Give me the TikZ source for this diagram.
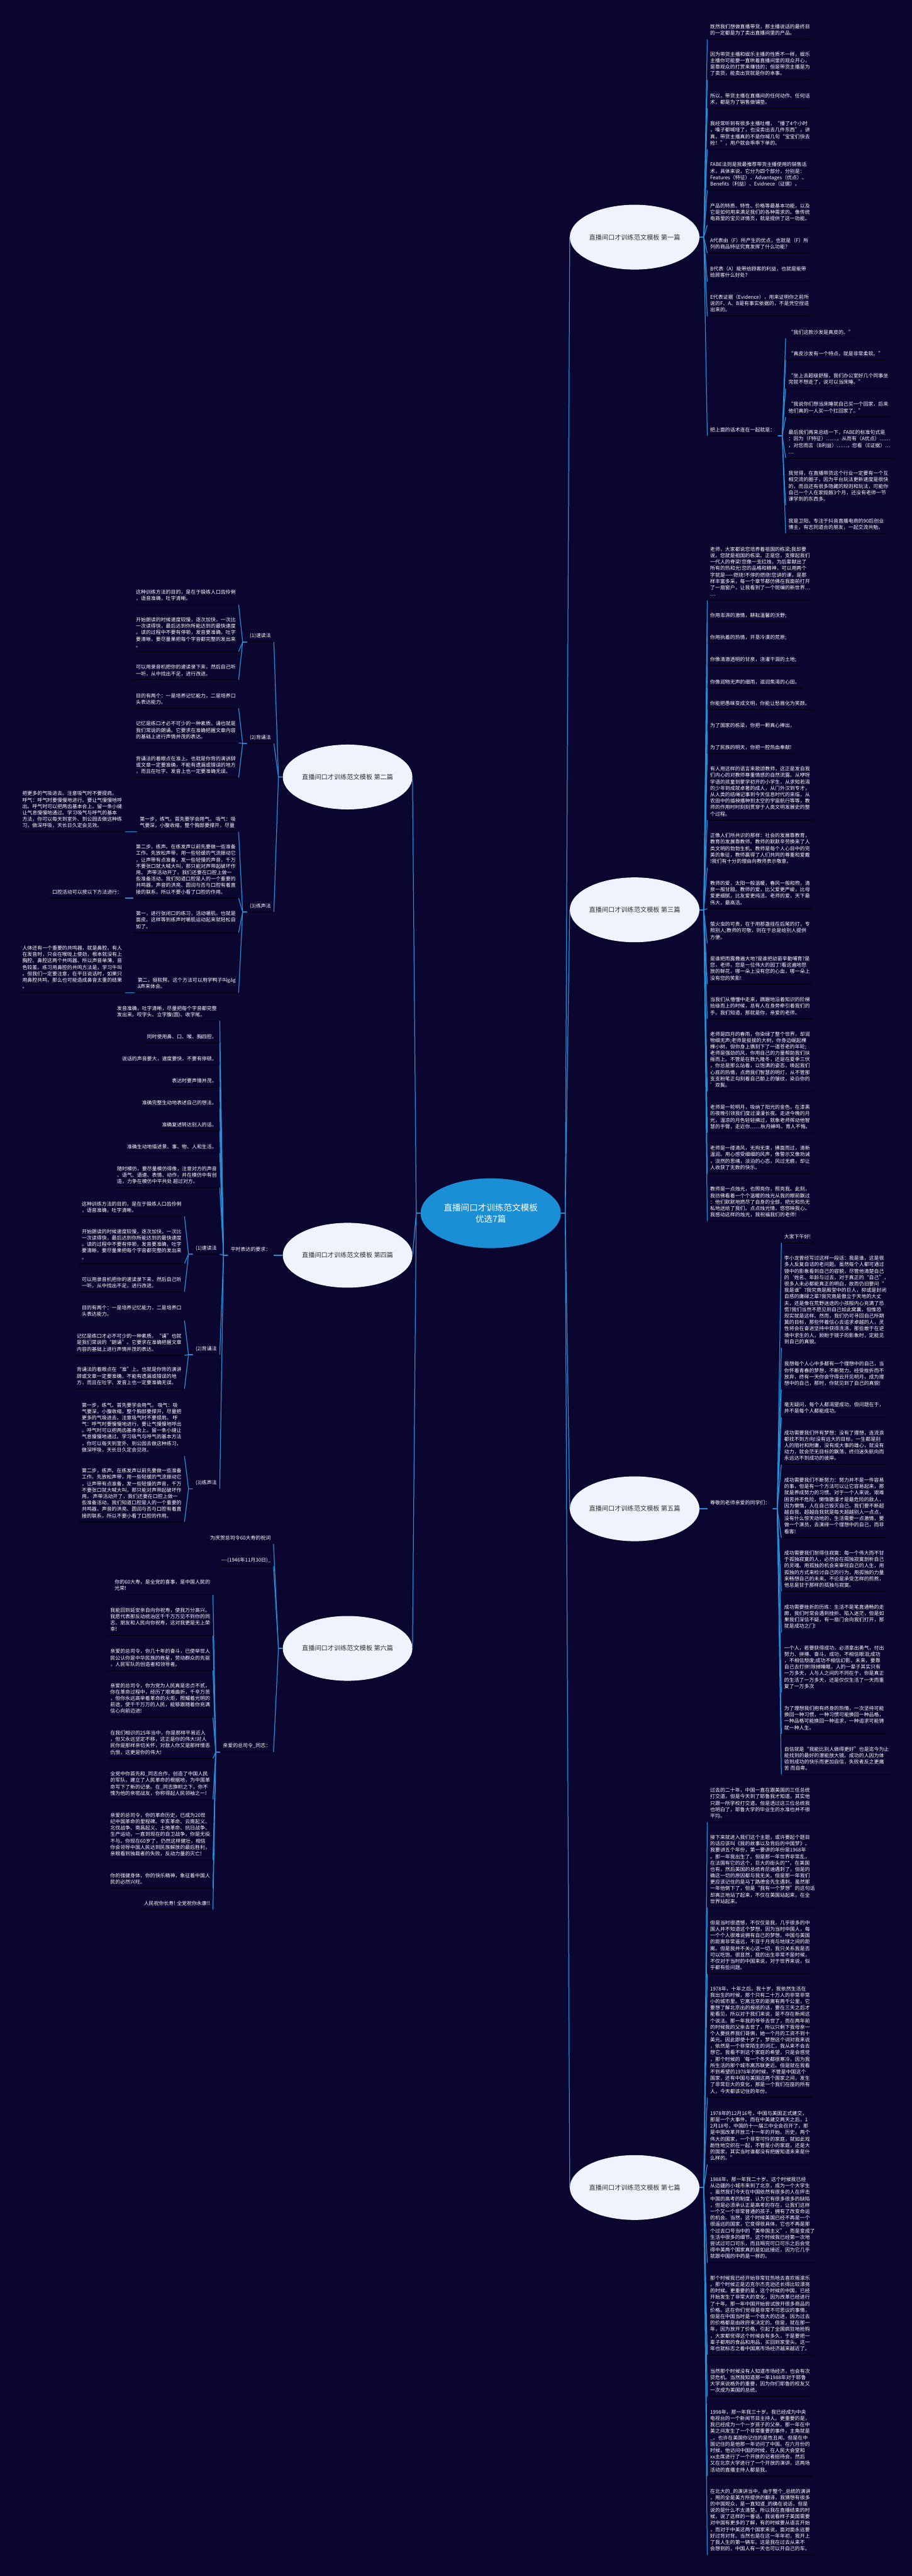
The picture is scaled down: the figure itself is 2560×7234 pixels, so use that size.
\documentclass[tikz,border=0pt]{standalone}
\usepackage{fontspec}
\setmainfont{Noto Sans CJK SC}
\usetikzlibrary{shapes.geometric}
\definecolor{bgc}{RGB}{10,6,48}
\definecolor{lnc}{RGB}{38,142,214}
\definecolor{ellc}{RGB}{238,243,253}
\definecolor{rootc}{RGB}{26,143,214}
\definecolor{ulc}{RGB}{2,1,18}
\definecolor{darktxt}{RGB}{51,51,51}
\tikzset{
  conn/.style={draw=lnc, line width=2.2pt},
  ul/.style={draw=ulc, line width=2pt},
  txt/.style={align=left, text=white, font=\fontsize{14}{18}\selectfont, inner xsep=8pt, inner ysep=8pt, text depth=4pt},
  chap/.style={ellipse, fill=ellc, minimum width=364pt, minimum height=182pt, inner sep=0pt, text=darktxt, font=\fontsize{18}{22}\selectfont},
  rootn/.style={ellipse, fill=rootc, minimum width=394pt, minimum height=196pt, inner sep=0pt, text=white, align=center, font=\fontsize{24}{32}\selectfont}
}
\newcommand\nodeR[4]{\node[txt,anchor=south west] (#1) at (#2,#3) {#4};\draw[ul] (#1.south west) -- (#1.south east);}
\newcommand\nodeL[4]{\node[txt,anchor=south east] (#1) at (#2,#3) {#4};\draw[ul] (#1.south west) -- (#1.south east);}
\newcommand\conR[2]{\draw[conn] (#1.south east) -- ++(12,0) -- (#2.south west);}
\newcommand\conL[2]{\draw[conn] (#1.south west) -- ++(-12,0) -- (#2.south east);}
\newcommand\conRE[2]{\draw[conn] (#1.east) -- ++(12,0) -- (#2.south west);}
\newcommand\conLE[2]{\draw[conn] (#1.west) -- ++(-12,0) -- (#2.south east);}
\begin{document}
\begin{tikzpicture}[x=1pt,y=-1pt]
\fill[bgc] (0,0) rectangle (2560,7234);
\useasboundingbox (0,0) rectangle (2560,7234);

% ---------- central and chapters ----------
\node[rootn] (root) at (1378,3407) {直播间口才训练范文模板\\优选7篇};
\node[chap] (c1) at (1782,666) {直播间口才训练范文模板 第一篇};
\node[chap] (c3) at (1782,2555) {直播间口才训练范文模板 第三篇};
\node[chap] (c5) at (1782,4237) {直播间口才训练范文模板 第五篇};
\node[chap] (c7) at (1782,6143) {直播间口才训练范文模板 第七篇};
\node[chap] (c2) at (976,2182) {直播间口才训练范文模板 第二篇};
\node[chap] (c4) at (976,3525) {直播间口才训练范文模板 第四篇};
\node[chap] (c6) at (976,4629) {直播间口才训练范文模板 第六篇};
\foreach \c in {c1,c3,c5,c7} {\draw[conn] (root.east) -- ++(12,0) -- (\c.west);}
\foreach \c in {c2,c4,c6} {\draw[conn] (root.west) -- ++(-12,0) -- (\c.east);}

% ---------- 第一篇 ----------
\nodeR{a1}{1986}{110}{既然我们想做直播带货，那主播说话的最终目\\的一定都是为了卖出直播间里的产品。}
\nodeR{a2}{1986}{224}{因为带货主播和娱乐主播的性质不一样，娱乐\\主播你可能要一直哄着直播间里的观众开心，\\是靠观众的打赏来赚钱的；但是带货主播是为\\了卖货，能卖出货就是你的本事。}
\nodeR{a3}{1986}{304}{所以，带货主播在直播间的任何动作、任何话\\术，都是为了销售做铺垫。}
\nodeR{a4}{1986}{419}{我经常听到有很多主播吐槽，“播了4个小时\\，嗓子都喊哑了，也没卖出去几件东西”，讲\\真，带货主播真的不是你喊几句“宝宝们快去\\抢！”，用户就会乖乖下单的。}
\nodeR{a5}{1986}{534}{FABE法则是我最推荐带货主播使用的销售话\\术，具体来说，它分为四个部分，分别是：\\Features（特征）、Advantages（优点）、\\Benefits（利益）、Evidnece（证据）。}
\nodeR{a6}{1986}{632}{产品的特质、特性、价格等最基本功能，以及\\它是如何用来满足我们的各种需求的。像传统\\电商里的宝贝详情页，就是提供了这一功能。}
\nodeR{a7}{1986}{711}{A代表由（F）所产生的优点，也就是（F）所\\列的商品特征究竟发挥了什么功能？}
\nodeR{a8}{1986}{791}{B代表（A）能带给顾客的利益，也就是能带\\给顾客什么好处？}
\nodeR{a9}{1986}{888}{E代表证据（Evidence），用来证明你之前所\\说的F、A、B是有事实依据的，不是凭空捏造\\出来的。}
\nodeR{a10}{1986}{1224}{把上面的话术连在一起就是：}
\nodeR{aa1}{2206}{950}{“我们这款沙发是真皮的。”}
\nodeR{aa2}{2206}{1011}{“真皮沙发有一个特点，就是非常柔软。”}
\nodeR{aa3}{2206}{1091}{“坐上去超级舒服，我们办公室好几个同事坐\\完就不想走了，说可以当床睡。”}
\nodeR{aa4}{2206}{1171}{“我说你们想当床睡就自己买一个回家，后来\\他们真的一人买一个扛回家了。”}
\nodeR{aa5}{2206}{1286}{最后我们再来总结一下，FABE的标准句式是\\：因为（F特征）……，从而有（A优点）……\\，对您而言（B利益）……，您看（E证据）…\\…}
\nodeR{aa6}{2206}{1419}{我觉得，在直播带货这个行业一定要有一个互\\相交流的圈子，因为平台玩法更新速度是很快\\的，而且还有很多隐藏的规则和玩法，可能你\\自己一个人在家捣鼓3个月，还没有老师一节\\课学到的东西多。}
\nodeR{aa7}{2206}{1498}{我是卫阳，专注于抖音直播电商的90后创业\\博主，有志同道合的朋友，一起交流共勉。}
\foreach \c in {a1,a2,a3,a4,a5,a6,a7,a8,a9,a10} {\conRE{c1}{\c}}
\foreach \c in {aa1,aa2,aa3,aa4,aa5,aa6,aa7} {\conR{a10}{\c}}

% ---------- 第三篇 ----------
\nodeR{b1}{1986}{1686}{老师，大家都说您培养着祖国的栋梁;我却要\\说，您就是祖国的栋梁。正是您，支撑起我们\\一代人的脊梁!您像一支红烛，为后辈献出了\\所有的热和光!您的品格和精神，可以用两个\\字就是——燃烧!不停的燃烧!您讲的课，是那\\样丰富多采，每一个章节都仿佛在我面前打开\\了一扇窗户，让我看到了一个斑斓的新世界…\\…}
\nodeR{b2}{1986}{1746}{你用澎湃的激情，耕耘温馨的沃野;}
\nodeR{b3}{1986}{1808}{你用执着的热情，开垦冷漠的荒原;}
\nodeR{b4}{1986}{1870}{你像清澈透明的甘泉，浇灌干涸的土地;}
\nodeR{b5}{1986}{1932}{你像润物无声的细雨，滋润焦渴的心田。}
\nodeR{b6}{1986}{1993}{你能把愚昧变成文明，你能让愁眉化为笑颜。}
\nodeR{b7}{1986}{2055}{为了国家的栋梁，你把一颗真心捧出，}
\nodeR{b8}{1986}{2116}{为了民族的明天，你把一腔热血奉献!}
\nodeR{b9}{1986}{2303}{有人用这样的语言来歌颂教师，这正是发自我\\们内心的对教师尊重情感的自然流露。从咿呀\\学语的孩童到蒙学初开的小学生，从求知若渴\\的少年到成就卓著的成人，从门外汉到专才，\\从人类的结绳记事到今天信息时代的来临，从\\农田中的插秧播种到太空的宇宙航行等等，教\\师的作用时时刻刻贯穿于人类文明发展史的整\\个过程。}
\nodeR{b10}{1986}{2436}{正像人们所共识的那样：社会的发展靠教育，\\教育的发展靠教师。教师的默默辛劳换来了人\\类文明的勃勃生机。教师是每个人心目中的完\\美的象征，教师赢得了人们共同的尊重和爱戴\\!我们有十分的理由向教师表示敬意。}
\nodeR{b11}{1986}{2552}{教师的爱，太阳一般温暖，春风一般和煦，清\\泉一般甘甜。教师的爱，比父爱更严峻，比母\\爱更细腻，比友爱更纯洁。老师的爱，天下最\\伟大，最高洁。}
\nodeR{b12}{1986}{2649}{萤火虫的可贵，在于用那盏挂在后尾的灯，专\\照别人;教师的可敬，则在于总是给别人提供\\方便。}
\nodeR{b13}{1986}{2764}{是谁把雨露撒遍大地?是谁把幼苗辛勤哺育?是\\您，老师，您是一位伟大的园丁!看这遍地怒\\放的鲜花，哪一朵上没有您的心血，哪一朵上\\没有您的笑影!}
\nodeR{b14}{1986}{2861}{当我们从懵懂中走来，蹒跚地沿着知识的阶梯\\拾级而上的时候，总有人在身旁牵引着我们的\\手。我们知道，那就是你，亲爱的老师。}
\nodeR{b15}{1986}{3065}{老师是四月的春雨，你染绿了整个世界，却润\\物细无声;老师是挺拔的大树，你身边崛起棵\\棵小树，但你身上镌刻下了一道苍老的年轮;\\老师是强劲的风，你用自己的力量帮助我们扶\\摇而上。不管是在数九隆冬，还是在夏季三伏\\，你总是那么站着，以饱满的姿态，唤起我们\\心底的热情，点燃我们智慧的明灯，从不管那\\支支粉笔正勾刻着自己额上的皱纹，染白你的\\'双鬓。}
\nodeR{b16}{1986}{3181}{老师是一轮明月，吸纳了阳光的金色，在漆黑\\的夜晚引领我们度过漫漫长夜。走进今晚的月\\光，温凉的月色轻轻拂过，就象老师挥动他智\\慧的手臂，走近你……秋月蝉鸣，育人不悔。}
\nodeR{b17}{1986}{3296}{老师是一缕清风，无拘无束，拂面而过，清新\\温润。用心感受细细的风声，像警示又像劝诫\\，淡然的思绪，淡泊的心态，风过无痕，却让\\人收获了无数的快乐。}
\nodeR{b18}{1986}{3429}{教师是一点烛光，也照亮你，照亮我。此刻，\\我彷佛看着一个个温暖的烛光从我的眼前飘过\\：他们默默地燃尽了自身的全部，把光和热无\\私地送给了我们。点点烛光情，悠悠映我心。\\我感动这样的烛光，我祝福我们的老师!}
\foreach \c in {b1,b2,b3,b4,b5,b6,b7,b8,b9,b10,b11,b12,b13,b14,b15,b16,b17,b18} {\conRE{c3}{\c}}

% ---------- 第五篇 ----------
\nodeR{e0}{1986}{4237}{尊敬的老师亲爱的同学们：}
\draw[conn] (c5.east) -- (e0.south west);
\nodeR{e1}{2194}{3490}{大家下午好!}
\nodeR{e2}{2194}{3785}{李小龙曾经写过这样一段话：我是谁，这是很\\多人反复自诘的老问题。虽然每个人都可通过\\镜中的影象看到自己的容貌，尽管他清楚自己\\的`姓名、年龄与过去，对于真正的“自己”，\\很多人未必都能真正的明白，故而仍旧要问“\\我是谁”?我究竟是殿堂中的巨人，抑或是封闭\\自惑的庸碌之辈?我究竟是傲立于天地的大丈\\夫，还是像在荒野迷途的小孩般内心充满了恐\\慌?我们当然不愿见到自己如此窝囊，但惟恐\\现实就是这样。然而，我们仍可寻回自己所期\\冀的目标，那些怀着信心去追求卓越的人，灵\\性将会在奋进坚持中获得洗涤，那些敢于在逆\\境中求生的人，顾盼于镜子的影象时，定能见\\到自己的真貌。}
\nodeR{e3}{2194}{3902}{我想每个人心中多都有一个理想中的自己，当\\你怀着青春的梦想，不断努力，经受挫折而不\\放弃，终有一天你会守得云开见明月，成为理\\想中的自己，那时，你就见到了自己的真貌!}
\nodeR{e4}{2194}{3980}{毫无疑问，每个人都渴望成功，但问题在于，\\并不是每个人都能成功。}
\nodeR{e5}{2194}{4113}{成功需要我们怀有梦想：没有了理想，连流浪\\都找不到方向!没有远大的目标，一生都是别\\人的陪衬和附庸，没有成大事的雄心，就没有\\动力，就会茫无目标的飘荡，终归迷失航向而\\永远达不到成功的彼岸。}
\nodeR{e6}{2194}{4318}{成功需要我们不断努力：努力并不是一件容易\\的事，但是有一个方法可以让它容易起来，那\\就是养成努力的习惯。对于一个人来说，艰难\\困苦并不危险，懒惰散漫才是最危险的敌人，\\因为懒惰，人在自己毁灭自己。我们要不断超\\越自我，超越自我就是每天超越别人一点点，\\没有什么惊天动地的，生活需要一点激情，要\\做一个演员，去演绎一个理想中的自己，而非\\看客!}
\nodeR{e7}{2194}{4469}{成功需要我们耐得住寂寞：每一个伟大而不甘\\于孤独寂寞的人，必然会在孤独寂寞剖析自己\\的灵魂。用孤独的机会来审视自己的人生，用\\孤独的方式来检讨自己的行为，用孤独的力量\\来畅想自己的未来。不论是承受怎样的煎熬，\\他总是甘于那样的孤独与寂寞。}
\nodeR{e8}{2194}{4584}{成功需要挫折的历练：生活不是笔直通畅的走\\廊，我们时常会遇到挫折、陷入迷茫，但是如\\果我们深信不疑，有一扇门会向我们打开，那\\就是成功之门!}
\nodeR{e9}{2194}{4753}{一个人，若要获得成功，必须拿出勇气，付出\\努力、拼搏、奋斗。成功，不相信眼泪;成功\\，不相信颓废;成功不相信幻影，未来，要靠\\自己去打拼!除掉睡眠，人的一辈子其实只有\\一万多天，人与人之间的不同在于，你是真正\\的生活了一万多天，还是仅仅生活了一天而重\\复了一万多次}
\nodeR{e10}{2194}{4869}{为了理想我们抱有终身的热情，一次坚持可能\\换回一种习惯，一种习惯可能换回一种品格，\\一种品格可能换回一种追求，一种追求可能铸\\就一种人生。}
\nodeR{e11}{2194}{4983}{自信就是“我能比别人做得更好”也是迄今为止\\能找到的最好的潜能放大镜。成功的人因为体\\验到成功的快乐而更加自信，失败者反之更痛\\苦 而自卑。}
\foreach \c in {e1,e2,e3,e4,e5,e6,e7,e8,e9,e10,e11} {\conR{e0}{\c}}

% ---------- 第七篇 ----------
\nodeR{g1}{1986}{5117}{过去的二十年，中国一直在跟美国的三任总统\\打交道，但是今天到了耶鲁我才知道，其实他\\只跟一所学校打交道。但是透过这三位总统我\\也明白了，耶鲁大学的毕业生的水准也并不很\\平均。}
\nodeR{g2}{1986}{5357}{接下来就进入我们这个主题，或许要起个题目\\的话应该叫《我的故事以及背后的中国梦》。\\我要讲五个年份，第一要讲的年份是1968年\\。那一年我出生了。但是那一年世界非常乱，\\在法国有它的这个，巨大的街头的**，在美国\\也有，然后美国的总统肯尼迪遇刺了，但是的\\确这一切的原因都与我无关。但是那一年我们\\更应该记住的是马丁路德金先生遇刺，虽然那\\一年他倒下了，但是“我有一个梦想”的这句话\\却真正地站了起来，不仅在美国站起来，在全\\世界站起来。}
\nodeR{g3}{1986}{5543}{但是当时很遗憾，不仅仅是我，几乎很多的中\\国人并不知道这个梦想，因为当时中国人，每\\一个个人很难说拥有自己的梦想。中国与美国\\的距离非常遥远，不亚于月亮与地球之间的距\\离。但是我并不关心这一切，我只关系我是否\\可以吃饱。很显然，我的出生非常不是时候，\\不仅对于当时的中国来说，对于世界来说，似\\乎都有些问题。}
\nodeR{g4}{1986}{5890}{1978年，十年之后。我十岁，我依然生活在\\我出生的时候，那个只有二十万人的非常非常\\小的城市里。它离北京的距离有两千公里，它\\要想了解北京出的报纸的话，要在三天之后才\\能看见，所以对于我们来说，是不存在新闻这\\个说法。那一年我的爷爷去世了，而在两年前\\的时候我的父亲去世了，所以只剩下我母亲一\\个人要抚养我们哥俩，她一个月的工资不到十\\美元。因此即使十岁了，梦想这个词对我来说\\，依然是一个非常陌生的词汇，我从来不会去\\想它。我看不到这个家庭的希望，只是会感觉\\，那个时候的`每一个冬天都很寒冷，因为我\\所生活的那个城市离苏联更近。但是就在我看\\不到希望的1978年的时候，不管是中国这个\\国家，还有中国与美国这两个国家之间，发生\\了非常巨大的变化，那是一个我们在座的所有\\人，今天都该记住的年份。}
\nodeR{g5}{1986}{6078}{1978年的12月16号，中国与美国正式建交，\\那是一个大事件。而在中美建交两天之后，1\\2月18号，中国的十一届三中全会召开了，那\\是中国改革开放三十一年的开始。历史，两个\\伟大的国家，一个非常可怜的家庭，就如此戏\\剧性地交织在一起，不管是小的家庭，还是大\\的国家，其实当时谁都没有把握知道未来是什\\么样的。”}
\nodeR{g6}{1986}{6354}{1988年，那一年我二十岁。这个时候我已经\\从边疆的小城市来到了北京，成为一个大学生\\。虽然我们今天在中国依然有很多的人在抨击\\中国的高考的制度，认为它有很多很多的缺陷\\，但是必须承认正是高考的存在，让我们这样\\一个又一个非常普通的孩子，拥有了改变命运\\的机会。当然，这个时候美国已经不再是一个\\很遥远的国家，它变得很具体，它也不再是那\\个过去口号当中的“美帝国主义”，而是变成了\\生活中很多的细节。这个时候我已经第一次地\\尝试过可口可乐，而且喝完可口可乐之后会觉\\得中美两个国家真的是如此接近，因为它几乎\\就跟中国的中药是一样的。}
\nodeR{g7}{1986}{6613}{那个时候我已经开始非常狂热地去喜欢摇滚乐\\。那个时候正是迈克尔杰克逊还长得比较漂亮\\的时候。更重要的是，这个时候的中国，已经\\开始发生了非常大的变化，因为改革已经进行\\了十年。那一年中国开始尝试放开很多商品的\\价格。这在你们觉得是非常不可思议的事情，\\但是在中国当时是一个很大的迈进，因为过去\\的价格都是由政府来决定的。但是，就在那一\\年，因为放开了价格，引起了全国疯狂地抢购\\，大家都觉得这个时候会有多久，于是要把一\\辈子都用的食品和用品，买回到家里头。这一\\年也就标志之着中国离市场经济越来越近了。}
\nodeR{g8}{1986}{6730}{当然那个时候没有人知道市场经济，也会有次\\贷危机。当然我知道那一年1988年对于耶鲁\\大学来说格外的重要，因为你们耶鲁的校友又\\一次成为美国的总统。}
\nodeR{g9}{1986}{6953}{1998年，那一年我三十岁。我已经成为中央\\电视台的一个新闻节目主持人。更重要的是，\\我已经成为一个一岁孩子的父亲。那一年在中\\美之间发生了一个非常重要的事件，主角就是\\\_。也许在美国你记住的是性丑闻。但是在中\\国记住的是他那一年访问了中国。在六月份的\\时候，他访问中国的时候，在人民大会堂和\\xx主席进行了一个开放的记者招待会，然后\\又在北京大学进行了一个开放的演讲，这两场\\活动的直播主持人都是我。}
\nodeR{g10}{1986}{7175}{在北大的\_的演讲当中，由于整个\_总统的演讲\\，用的全是美方所提供的翻译，我猜想有很多\\的中国观众，是一直知道\_的确在说话，但是\\说的是什么不太清楚。所以我在直播结束的时\\候，说了这样的一番话，我说看样子美国需要\\对中国有更多的了解，有的时候要从语言开始\\，而对于中美这两个国家来说，面对面永远要\\好过背对背。当然也是在这一年年初，我开上\\了我人生的第一辆车。这是我在过去从来不\\会想到的，中国人有一天也可以开自己的车。}
\foreach \c in {g1,g2,g3,g4,g5,g6,g7,g8,g9,g10} {\conRE{c7}{\c}}

% ---------- 第二篇 ----------
\nodeL{l1}{769}{1803}{(1)速读法}
\nodeL{l2}{769}{2088}{(2)背诵法}
\nodeL{l3}{769}{2561}{(3)练声法}
\foreach \c in {l1,l2,l3} {\conLE{c2}{\c}}
\nodeL{l1a}{670}{1698}{这种训练方法的目的，是在于锻炼人口齿伶俐\\，语音准确，吐字清晰。}
\nodeL{l1b}{670}{1830}{开始朗读的时候速度较慢，逐次加快，一次比\\一次读得快，最后达到你所能达到的最快速度\\。读的过程中不要有停顿，发音要准确，吐字\\要清晰，要尽量果把每个字音都完整的发出来\\。}
\nodeL{l1c}{670}{1909}{可以用录音机把你的速读录下来，然后自己听\\一听，从中找出不足，进行改进。}
\foreach \c in {l1a,l1b,l1c} {\conL{l1}{\c}}
\nodeL{l2a}{670}{1989}{目的有两个：一是培养记忆能力，二是培养口\\头表达能力。}
\nodeL{l2b}{670}{2086}{记忆是练口才必不可少的一种素质。诵也就是\\我们常说的朗诵。它要求在准确把握文章内容\\的基础上进行声情并茂的表达。}
\nodeL{l2c}{670}{2184}{背诵法的着眼点在准上。也就是你背的演讲辞\\或文章一定要准确，不能有遗漏或错误的地方\\，而且在吐字、发音上也一定要准确无误。}
\foreach \c in {l2a,l2b,l2c} {\conL{l2}{\c}}
\nodeL{l3a}{670}{2336}{第一步，练气。首先要学会用气。 吸气：吸\\气要深，小腹收缩，整个胸部要撑开，尽量}
\nodeL{l3b}{670}{2522}{第二步，练声。在练发声以前先要做一些准备\\工作。先放松声带，用一些轻缓的气流振动它\\，让声带有点准备，发一些轻慢的声音，千万\\不要张口就大喊大叫，那只能对声带起破坏作\\用。 声带活动开了，我们还要在口腔上做一\\些准备活动。我们知道口腔是人的一个重要的\\共鸣器，声音的洪亮、圆润与否与口腔有着直\\接的联系，所以不要小看了口腔的作用。}
\nodeL{l3c}{670}{2619}{第一，进行张闭口的练习，活动嚼肌，也就是\\面皮。这样等到练声时嚼肌运动起来就轻松自\\如了。}
\nodeL{l3d}{670}{2788}{第二，挺软腭。这个方法可以用学鸭子叫gāg\\ā声来体会。}
\foreach \c in {l3a,l3b,l3c,l3d} {\conL{l3}{\c}}
\nodeL{l3ax}{351}{2336}{把更多的气吸进去。注意吸气时不要提肩。\\ 呼气：呼气时要慢慢地进行。要让气慢慢地呼\\出。呼气时可以把两齿基本合上。留一条小缝\\让气息慢慢地通过。学习吸气与呼气的基本\\方法，你可以每天到室外、到公园去做这种练\\习，做深呼吸，天长日久定会见效。}
\nodeL{l3bx}{351}{2522}{口腔活动可以按以下方法进行：}
\nodeL{l3dx}{351}{2788}{人体还有一个重要的共鸣器，就是鼻腔。有人\\在发音时，只会在喉咙上使劲，根本就没有上\\胸腔、鼻腔这两个共鸣器、所以声音单薄，音\\色较差。练习用鼻腔的共鸣方法是，学习牛叫\\。但我们一定要注意，在平日说话时，如果只\\用鼻腔共鸣，那么也可能造成鼻音太重的结果\\。}
\draw[conn] (l3a.south west) -- (l3ax.south east);
\draw[conn] (l3b.south west) -- (l3bx.south east);
\draw[conn] (l3d.south west) -- (l3dx.south east);

% ---------- 第四篇 ----------
\nodeL{p0}{768}{3525}{平时表达的要求：}
\draw[conn] (c4.west) -- (p0.south east);
\nodeL{p1}{617}{2867}{发音准确，吐字清晰，尽量把每个字音都完整\\发出来。咬字头、立字腹(圆)、收字尾。}
\nodeL{p2}{617}{2929}{同时使用鼻、口、喉、胸四腔。}
\nodeL{p3}{617}{2991}{说话的声音要大，速度要快，不要有停顿。}
\nodeL{p4}{617}{3053}{表达时要声情并茂。}
\nodeL{p5}{617}{3114}{准确完整生动地表述自己的想法。}
\nodeL{p6}{617}{3176}{准确复述转达别人的话。}
\nodeL{p7}{617}{3238}{准确生动地描述景、事、物、人和生活。}
\nodeL{p8}{617}{3335}{随时模仿，要尽量模仿得像，注意对方的声音\\、语气、语速、表情、动作，并在模仿中有创\\造，力争在模仿中平共处 超过对方。}
\nodeL{ps1}{617}{3522}{(1)速读法}
\nodeL{ps2}{617}{3804}{(2)背诵法}
\nodeL{ps3}{617}{4181}{(3)练声法}
\foreach \c in {p1,p2,p3,p4,p5,p6,p7,p8,ps1,ps2,ps3} {\conL{p0}{\c}}
\nodeL{ps1a}{518}{3416}{这种训练方法的目的，是在于锻炼人口齿伶俐\\，语音准确，吐字清晰。}
\nodeL{ps1b}{518}{3548}{开始朗读的时候速度较慢，逐次加快，一次比\\一次读得快，最后达到你所能达到的最快速度\\。读的过程中不要有停顿，发音要准确，吐字\\要清晰，要尽量果把每个字音都完整的发出来\\。}
\nodeL{ps1c}{518}{3628}{可以用录音机把你的速读录下来，然后自己听\\一听，从中找出不足，进行改进。}
\foreach \c in {ps1a,ps1b,ps1c} {\conL{ps1}{\c}}
\nodeL{ps2a}{518}{3708}{目的有两个：一是培养记忆能力，二是培养口\\头表达能力。}
\nodeL{ps2b}{518}{3806}{记忆是练口才必不可少的一种素质。“诵”也就\\是我们常说的“朗诵”。它要求在准确把握文章\\内容的基础上进行声情并茂的表达。}
\nodeL{ps2c}{518}{3900}{背诵法的着眼点在“准”上。也就是你背的演讲\\辞或文章一定要准确，不能有遗漏或错误的地\\方，而且在吐字、发音上也一定要准确无误。}
\foreach \c in {ps2a,ps2b,ps2c} {\conL{ps2}{\c}}
\nodeL{ps3a}{518}{4089}{第一步，练气。首先要学会用气。 吸气：吸\\气要深，小腹收缩，整个胸部要撑开，尽量把\\更多的气吸进去。注意吸气时不要提肩。 呼\\气：呼气时要慢慢地进行。要让气慢慢地呼出\\。呼气时可以把两齿基本合上。留一条小缝让\\气息慢慢地通过。学习吸气与呼气的基本方法\\，你可以每天到室外、到公园去做这种练习，\\做深呼吸，天长日久定会见效。}
\nodeL{ps3b}{518}{4274}{第二步，练声。在练发声以前先要做一些准备\\工作。先放松声带，用一些轻缓的气流振动它\\，让声带有点准备，发一些轻慢的声音，千万\\不要张口就大喊大叫，那只能对声带起破坏作\\用。 声带活动开了，我们还要在口腔上做一\\些准备活动。我们知道口腔是人的一个重要的\\共鸣器，声音的洪亮、圆润与否与口腔有着直\\接的联系，所以不要小看了口腔的作用。}
\foreach \c in {ps3a,ps3b} {\conL{ps3}{\c}}

% ---------- 第六篇 ----------
\nodeL{q1}{768}{4336}{为庆贺总司令60大寿的祝词}
\nodeL{q2}{768}{4398}{----(1946年11月30日)\_}
\nodeL{q3}{768}{4920}{亲爱的总司令\_同志：}
\foreach \c in {q1,q2,q3} {\conLE{c6}{\c}}
\nodeL{q3a}{598}{4478}{你的60大寿，是全党的喜事，是中国人民的\\光荣!}
\nodeL{q3b}{598}{4593}{我能回到延安亲自向你祝寿，使我万分高兴。\\我愿代表那反动统治区千千万万见不到你的同\\志、朋友和人民向你祝寿，这对我更是无上荣\\幸!}
\nodeL{q3c}{598}{4691}{亲爱的总司令，你几十年的奋斗，已使举世人\\民公认你是中华民族的救星，劳动群众的先驱\\，人民军队的创造者和领导者。}
\nodeL{q3d}{598}{4823}{亲爱的总司令，你为党为人民真是忠贞不贰，\\你在革命过程中，经历了艰难曲折，千辛万苦\\，但你永远高举着革命的火炬，照耀着光明的\\前途，使千千万万的人民，能够跟随着你充满\\信心向前迈进!}
\nodeL{q3e}{598}{4938}{在我们相识的25年当中，你是那样平易近人\\，但又永远坚定不移，这正是你的伟大!对人\\民你是那样亲切关怀，对敌人你又是那样憎恶\\仇恨，这更是你的伟大!}
\nodeL{q3f}{598}{5053}{全党中你首先和\_同志合作，创造了中国人民\\的军队，建立了人民革命的根据地，为中国革\\命写下了新的记录。在\_同志旗帜之下，你不\\愧为他的亲密战友，你称得起人民领袖之一!}
\nodeL{q3g}{598}{5223}{亲爱的总司令，你的革命历史，已成为20世\\纪中国革命的里程碑。辛亥革命、云南起义、\\北伐战争、南昌起义、土地革命、抗日战争、\\生产运动，一直到现在的自卫战争，你是无役\\不与。你现在60岁了，仍然这样健壮，相信\\你会领导中国人民达到民族解放的最后胜利，\\亲眼看到独裁者的失败，反动力量的灭亡!}
\nodeL{q3h}{598}{5303}{你的强健身体，你的快乐精神，象征着中国人\\民的必然兴旺。}
\nodeL{q3i}{598}{5363}{人民祝你长寿! 全党祝你永康!!}
\foreach \c in {q3a,q3b,q3c,q3d,q3e,q3f,q3g,q3h,q3i} {\conL{q3}{\c}}
\end{tikzpicture}
\end{document}
